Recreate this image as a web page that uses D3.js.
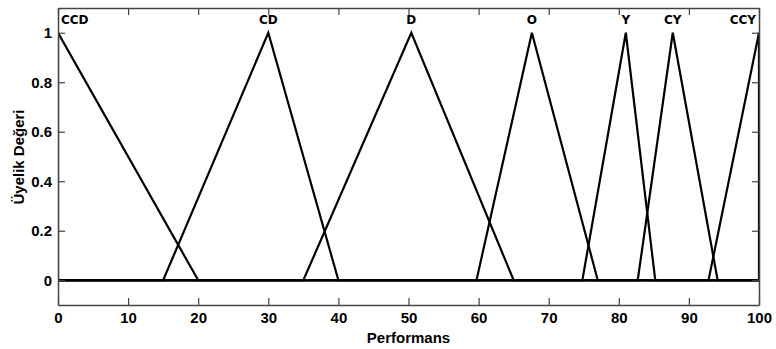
<!DOCTYPE html>
<html>
<head>
<meta charset="utf-8">
<script src="https://cdn.jsdelivr.net/npm/d3@7"></script>
<style>
  body { margin: 0; background: #fff; }
  .tick text { font-family: "Liberation Sans", Arial, sans-serif; font-weight: bold; font-size: 15px; fill: #000; }
  .axis-title { font-family: "Liberation Sans", Arial, sans-serif; font-weight: bold; font-size: 15px; }
  .mf-label { font-family: "DejaVu Sans", sans-serif; font-weight: bold; font-size: 12px; }
</style>
</head>
<body>
<div id="chart"></div>
<script>
  // membership function names and triangle params [left foot, peak, right foot]
  const mfNames = ["CCD", "CD", "D", "O", "Y", "CY", "CCY"]
  const leftFeet = [-20, 15, 35, 59.7, 74.8, 82.7, 92.8]
  const peaks = [0, 30, 50.4, 67.6, 81, 87.7, 100]
  const rightFeet = [20, 40, 65, 77, 85.2, 94.1, 120]

  const xTicks = [0, 10, 20, 30, 40, 50, 60, 70, 80, 90, 100]
  const yTicks = [0, 0.2, 0.4, 0.6, 0.8, 1]

  const width = 776
  const height = 349
  const margin = { top: 8, right: 17, bottom: 44, left: 58 }
  const innerW = width - margin.left - margin.right
  const innerH = height - margin.top - margin.bottom

  const svg = d3.select("#chart").append("svg").attr("width", width).attr("height", height)
  const g = svg.append("g").attr("transform", `translate(${margin.left},${margin.top})`)

  const x = d3.scaleLinear().domain([0, 100]).range([0, innerW])
  const y = d3.scaleLinear().domain([-0.1, 1.1]).range([innerH, 0])

  g.append("clipPath").attr("id", "clip").append("rect").attr("width", innerW).attr("height", innerH)

  // each MF sampled at its breakpoints, zero elsewhere across the range
  const mfs = mfNames.map((name, i) => {
    const pts = [[0, 0]]
    ;[leftFeet[i], peaks[i], rightFeet[i]].forEach((v, j) => pts.push([v, j === 1 ? 1 : 0]))
    pts.push([100, 0])
    pts.sort((a, b) => a[0] - b[0])
    return { name, pts }
  })

  const line = d3.line().x(d => x(d[0])).y(d => y(d[1]))

  g.append("g")
    .attr("clip-path", "url(#clip)")
    .selectAll("path")
    .data(mfs)
    .join("path")
    .attr("d", d => line(d.pts))
    .attr("fill", "none")
    .attr("stroke", "#000")
    .attr("stroke-width", 2.2)

  // axes with inward ticks, matlab style
  const axisColor = "#444"
  g.append("g")
    .attr("transform", `translate(0,${innerH})`)
    .call(d3.axisBottom(x).tickValues(xTicks).tickSizeInner(-7).tickSizeOuter(0).tickPadding(7))
  g.append("g")
    .call(d3.axisTop(x).tickValues(xTicks).tickSizeInner(-7).tickSizeOuter(0).tickFormat(""))
  g.append("g")
    .call(d3.axisLeft(y).tickValues(yTicks).tickSizeInner(-7).tickSizeOuter(0).tickPadding(6).tickFormat(d3.format("")))
  g.append("g")
    .attr("transform", `translate(${innerW},0)`)
    .call(d3.axisRight(y).tickValues(yTicks).tickSizeInner(-7).tickSizeOuter(0).tickFormat(""))

  g.selectAll(".domain").attr("stroke", axisColor).attr("stroke-width", 1.5)
  g.selectAll(".tick line").attr("stroke", axisColor).attr("stroke-width", 1.2)

  // MF labels above peaks
  g.selectAll(".mf-label")
    .data(mfs)
    .join("text")
    .attr("class", "mf-label")
    .attr("x", (d, i) => x(peaks[i]) + (i === 0 ? 3 : i === mfs.length - 1 ? -3 : 0))
    .attr("y", y(1) - 8.5)
    .attr("text-anchor", (d, i) => (i === 0 ? "start" : i === mfs.length - 1 ? "end" : "middle"))
    .text(d => d.name)

  svg.append("text")
    .attr("class", "axis-title")
    .attr("x", margin.left + x(50))
    .attr("y", 343)
    .attr("text-anchor", "middle")
    .text("Performans")

  svg.append("text")
    .attr("class", "axis-title")
    .attr("transform", `translate(24,157) rotate(-90)`)
    .attr("text-anchor", "middle")
    .text("Üyelik Değeri")
</script>
</body>
</html>
